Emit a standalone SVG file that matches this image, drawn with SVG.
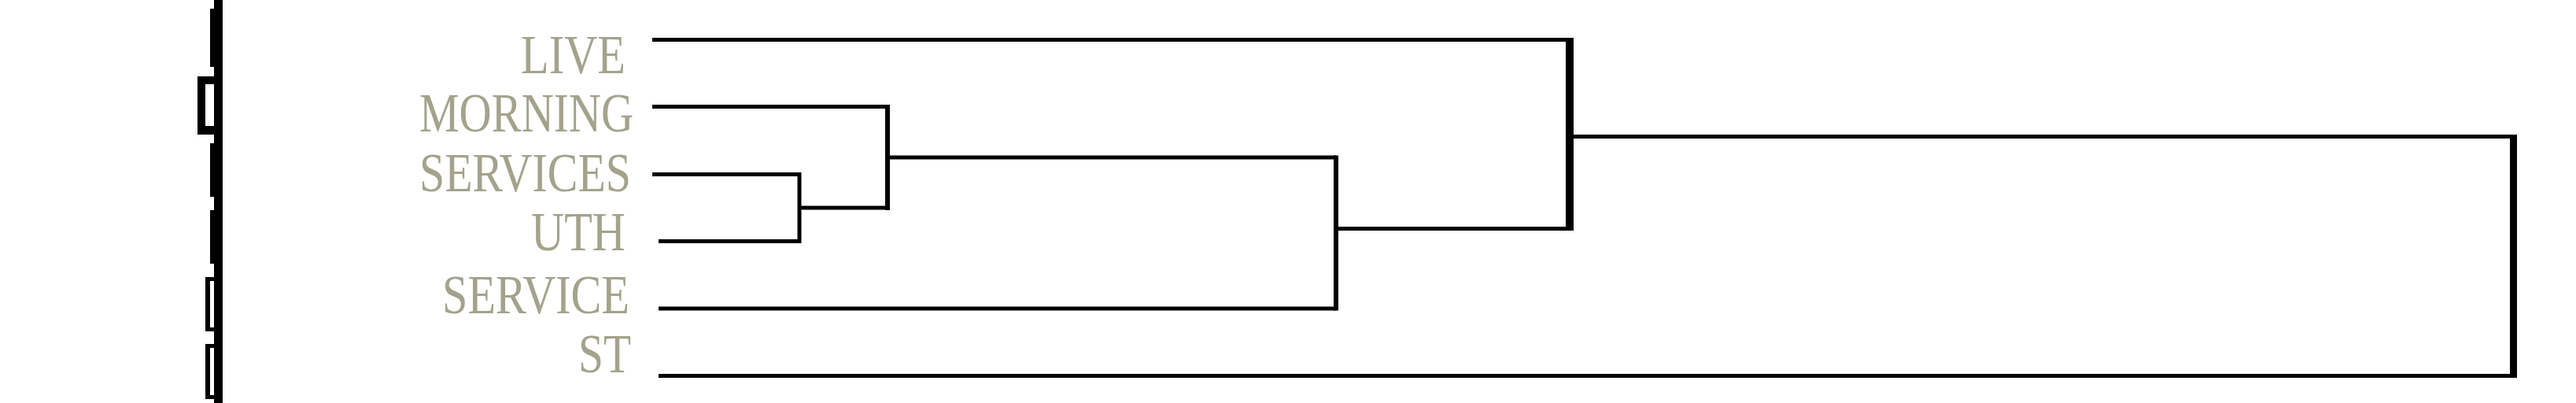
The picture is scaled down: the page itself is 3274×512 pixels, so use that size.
<svg xmlns="http://www.w3.org/2000/svg" width="3274" height="512" viewBox="0 0 3274 512">
<style>
.lbl{font-family:"Liberation Serif","Times New Roman",serif;font-size:69px;fill:#a3a38c}
.h{stroke:#000;stroke-width:5;fill:none}
.blk{fill:#000}
</style>
<rect width="3274" height="512" fill="#fff"/>
<g id="left-axis">
<rect class="blk" x="272" y="0" width="11" height="512"/>
<rect class="blk" x="267" y="11" width="6" height="74"/>
<path class="blk" fill-rule="evenodd" d="M251 97H273V171H251Z M261 107V160H273V107Z"/>
<rect class="blk" x="267" y="182" width="6" height="68"/>
<rect class="blk" x="267" y="267" width="6" height="68"/>
<path class="blk" fill-rule="evenodd" d="M261 352H273V421H261Z M267 357V416H273V357Z"/>
<path class="blk" fill-rule="evenodd" d="M261 437H273V507H261Z M267 442V502H273V442Z"/>
</g>
<g id="leaf-LIVE"><text class="lbl" x="662" y="93" textLength="133" lengthAdjust="spacingAndGlyphs">LIVE</text></g>
<g id="leaf-MORNING"><text class="lbl" x="533" y="167" textLength="272" lengthAdjust="spacingAndGlyphs">MORNING</text></g>
<g id="leaf-SERVICES"><text class="lbl" x="533" y="243" textLength="269" lengthAdjust="spacingAndGlyphs">SERVICES</text></g>
<g id="leaf-UTH"><text class="lbl" x="675" y="318" textLength="120" lengthAdjust="spacingAndGlyphs">UTH</text></g>
<g id="leaf-SERVICE"><text class="lbl" x="562" y="398" textLength="238" lengthAdjust="spacingAndGlyphs">SERVICE</text></g>
<g id="leaf-ST"><text class="lbl" x="735" y="473" textLength="67" lengthAdjust="spacingAndGlyphs">ST</text></g>
<g id="connectors">
<path class="h" d="M829 50.5H1996"/>
<path class="h" d="M829 135.5H1128"/>
<path class="h" d="M829 221.5H1016"/>
<path class="h" d="M837 306.5H1016"/>
<path class="h" d="M1016 264H1128"/>
<path class="h" d="M1128 200H1698"/>
<path class="h" d="M837 392H1698"/>
<path class="h" d="M1698 290.5H1996"/>
<path class="h" d="M1996 173.5H3195"/>
<path class="h" d="M837 477.5H3195"/>
<path class="h" d="M1016 219V309"/>
<path class="h" style="stroke-width:6" d="M1128 133V267"/>
<path class="h" style="stroke-width:6" d="M1698 197.5V394.5"/>
<path class="h" style="stroke-width:10" d="M1995 48V293"/>
<path class="h" style="stroke-width:9" d="M3194.5 171V480"/>
</g>
</svg>
